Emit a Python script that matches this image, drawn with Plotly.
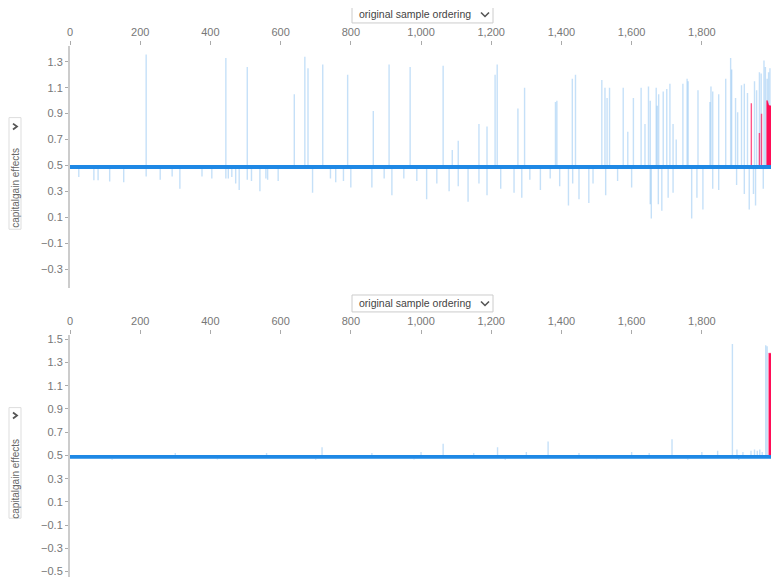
import plotly.graph_objects as go

# ---------------- data ----------------
n_samples = 1997
base_high = 0.504
base_low = 0.472

# top panel: light blue spikes above the base
top_up_idx = [217, 444, 505, 639, 669, 678, 720, 791, 864, 909, 969, 1063, 1089, 1106, 1165, 1188,
              1211, 1217, 1276, 1295, 1383, 1387, 1431, 1440, 1515, 1524, 1530, 1537, 1576, 1589,
              1605, 1627, 1638, 1648, 1653, 1670, 1673, 1677, 1690, 1700, 1709, 1718, 1727, 1746,
              1758, 1761, 1789, 1823, 1826, 1831, 1848, 1868, 1882, 1885, 1896, 1902, 1913, 1921,
              1930, 1950, 1956, 1964, 1969, 1977, 1981, 1986, 1990, 1994]
top_up_val = [1.356, 1.33, 1.26, 1.05, 1.34, 1.25, 1.28, 1.20, 0.92, 1.28, 1.26, 1.27, 0.62, 0.69, 0.82, 0.80,
              1.20, 1.28, 0.94, 1.10, 0.99, 1.00, 1.17, 1.20, 1.16, 1.10, 1.02, 1.10, 1.10, 0.76,
              1.02, 1.10, 0.82, 1.11, 1.00, 1.10, 0.96, 1.05, 1.07, 1.09, 1.13, 0.82, 0.70, 1.13,
              1.17, 1.15, 1.08, 0.99, 1.11, 1.07, 1.05, 1.17, 1.33, 1.24, 1.02, 0.91, 1.12, 1.13,
              1.06, 1.15, 1.08, 1.22, 1.21, 1.31, 1.26, 1.17, 1.22, 1.25]
# top panel: light blue spikes below the base
top_down_idx = [25, 68, 80, 113, 153, 217, 257, 291, 313, 376, 404, 444, 451, 461, 472, 482, 505, 517,
                541, 558, 563, 593, 691, 742, 757, 779, 800, 860, 895, 917, 951, 988, 1016, 1045,
                1080, 1106, 1134, 1165, 1188, 1227, 1265, 1287, 1310, 1340, 1368, 1395, 1420, 1432,
                1450, 1478, 1490, 1526, 1560, 1600, 1653, 1656, 1676, 1686, 1704, 1718, 1771, 1786,
                1803, 1831, 1848, 1899, 1921, 1935, 1947, 1953, 1975]
top_down_val = [0.41, 0.385, 0.385, 0.377, 0.37, 0.415, 0.39, 0.415, 0.32, 0.415, 0.40, 0.40, 0.40, 0.41,
                0.36, 0.31, 0.39, 0.38, 0.30, 0.40, 0.39, 0.38, 0.29, 0.40, 0.37, 0.38, 0.33, 0.33,
                0.40, 0.27, 0.40, 0.38, 0.24, 0.36, 0.30, 0.34, 0.22, 0.36, 0.27, 0.32, 0.29, 0.25,
                0.39, 0.31, 0.40, 0.34, 0.19, 0.36, 0.24, 0.21, 0.36, 0.27, 0.38, 0.33, 0.20, 0.09,
                0.20, 0.15, 0.25, 0.29, 0.09, 0.25, 0.16, 0.32, 0.31, 0.35, 0.28, 0.16, 0.28, 0.19, 0.32]
# top panel: red (positive) effects
top_red_line_idx = [1941, 1964, 1970]
top_red_line_val = [0.98, 0.75, 0.90]
top_red_block_idx = [1984, 1987, 1990, 1993, 1997]
top_red_block_val = [1.00, 1.00, 0.97, 0.96, 0.96]

# bottom panel
bot_up_idx = [300, 560, 718, 860, 1000, 1063, 1150, 1218, 1300, 1362, 1450, 1600, 1650, 1715, 1800,
              1845, 1887, 1900, 1917, 1940, 1950, 1958, 1965, 1972, 1982, 1986]
bot_up_val = [0.52, 0.52, 0.57, 0.52, 0.53, 0.60, 0.52, 0.57, 0.53, 0.62, 0.52, 0.53, 0.52, 0.64, 0.53,
              0.54, 1.46, 0.55, 0.53, 0.54, 0.55, 0.54, 0.55, 0.53, 1.45, 1.44]
bot_down_idx = [120, 420, 700, 980, 1240, 1500, 1760, 1905]
bot_down_val = [0.462, 0.465, 0.463, 0.465, 0.462, 0.466, 0.463, 0.46]
bot_red_block_idx = [1990, 1997]
bot_red_block_val = [1.38, 1.38]

x_ticks = [0, 200, 400, 600, 800, 1000, 1200, 1400, 1600, 1800]
top_y_ticks = [1.3, 1.1, 0.9, 0.7, 0.5, 0.3, 0.1, -0.1, -0.3]
bot_y_ticks = [1.5, 1.3, 1.1, 0.9, 0.7, 0.5, 0.3, 0.1, -0.1, -0.3, -0.5]
y_label = "capitalgain effects"
ordering_label = "original sample ordering"

# ---------------- styling ----------------
OFF = 8  # page body margin
W, H = 779 - OFF, 577 - OFF
ML, MR = 70 - OFF, 8
BLUE = "rgb(30,136,229)"
LIGHT = "rgba(30,136,229,0.26)"
RED = "rgb(255,13,87)"
FONT = "Liberation Sans, Arial, sans-serif"
TICKC = "#777"


def px(xp):
    return (xp - OFF - ML) / (W - ML - MR)


def py(yp):
    return (H - (yp - OFF)) / H


def spikes(idx, val, start):
    xs, ys = [], []
    for i, v in zip(idx, val):
        xs += [i, i, None]
        ys += [start, v, None]
    return xs, ys


fig = go.Figure()


def add_panel(xa, ya, up_idx, up_val, dn_idx, dn_val, red_line_idx, red_line_val, red_idx, red_val):
    xs, ys = spikes(up_idx, up_val, base_high)
    fig.add_trace(go.Scatter(x=xs, y=ys, mode="lines", line=dict(color=LIGHT, width=1.4),
                             xaxis=xa, yaxis=ya, hoverinfo="skip", showlegend=False))
    xs, ys = spikes(dn_idx, dn_val, base_low)
    fig.add_trace(go.Scatter(x=xs, y=ys, mode="lines", line=dict(color=LIGHT, width=1.4),
                             xaxis=xa, yaxis=ya, hoverinfo="skip", showlegend=False))
    fig.add_trace(go.Scatter(x=[0, n_samples], y=[base_low, base_low], mode="lines",
                             line=dict(color=BLUE, width=0), xaxis=xa, yaxis=ya,
                             hoverinfo="skip", showlegend=False))
    fig.add_trace(go.Scatter(x=[0, n_samples], y=[base_high, base_high], mode="lines",
                             line=dict(color=BLUE, width=0), fill="tonexty", fillcolor=BLUE,
                             xaxis=xa, yaxis=ya, hoverinfo="skip", showlegend=False))
    if red_line_idx:
        xs, ys = spikes(red_line_idx, red_line_val, base_high)
        fig.add_trace(go.Scatter(x=xs, y=ys, mode="lines", line=dict(color="rgba(255,13,87,0.7)", width=1.4),
                                 xaxis=xa, yaxis=ya, hoverinfo="skip", showlegend=False))
    fig.add_trace(go.Scatter(x=red_idx, y=[base_high] * len(red_idx), mode="lines",
                             line=dict(color=RED, width=0), xaxis=xa, yaxis=ya,
                             hoverinfo="skip", showlegend=False))
    fig.add_trace(go.Scatter(x=red_idx, y=red_val, mode="lines", line=dict(color=RED, width=0.5),
                             fill="tonexty", fillcolor=RED, xaxis=xa, yaxis=ya,
                             hoverinfo="skip", showlegend=False))


add_panel("x", "y", top_up_idx, top_up_val, top_down_idx, top_down_val,
          top_red_line_idx, top_red_line_val, top_red_block_idx, top_red_block_val)
add_panel("x2", "y2", bot_up_idx, bot_up_val, bot_down_idx, bot_down_val,
          [], [], bot_red_block_idx, bot_red_block_val)

xr = [0, n_samples]

xcommon = dict(range=xr, side="top", tickvals=x_ticks, tickformat=",", showgrid=False,
               zeroline=False, showline=False, ticks="outside", ticklen=4, tickwidth=1,
               tickcolor="#aaa", tickfont=dict(size=11, color=TICKC, family=FONT), fixedrange=True)
ycommon = dict(showgrid=False, zeroline=False, showline=True, linecolor="#ccc", linewidth=2,
               ticks="outside", ticklen=3, tickwidth=1, tickcolor="#aaa", ticklabeloverflow="allow",
               tickfont=dict(size=11, color=TICKC, family=FONT), fixedrange=True)

top_px = (44, 287)
bot_px = (334, 577)
top_rng = [0.5 - (top_px[1] - 164) / 130.0, 0.5 + (164 - top_px[0]) / 130.0]
bot_rng = [0.5 - (bot_px[1] - 455) / 116.5, 0.5 + (455 - bot_px[0]) / 116.5]

fig.update_layout(
    width=W, height=H,
    margin=dict(l=ML, r=MR, t=0, b=0),
    paper_bgcolor="white", plot_bgcolor="white",
    xaxis=dict(anchor="y", **xcommon),
    yaxis=dict(domain=[py(top_px[1]), py(top_px[0])], range=top_rng, tickvals=top_y_ticks,
               anchor="x", **ycommon),
    xaxis2=dict(anchor="y2", **xcommon),
    yaxis2=dict(domain=[max(0, py(bot_px[1])), py(bot_px[0])], range=bot_rng, tickvals=bot_y_ticks,
                anchor="x2", **ycommon),
)

shapes = []
annotations = []
for (dy0, dy1, by0, by1, chev_y, text_y) in [(4, 21, 116, 228, 125, 187), (294, 311, 407, 518, 415, 479)]:
    shapes.append(dict(type="rect", xref="paper", yref="paper", x0=px(352), x1=px(493),
                       y0=py(dy1), y1=py(dy0), line=dict(color="#ccc", width=1), fillcolor="white"))
    annotations.append(dict(xref="paper", yref="paper", x=px(357), y=py((dy0 + dy1) / 2),
                            text=ordering_label, showarrow=False, xanchor="left", yanchor="middle",
                            font=dict(size=10.5, color="#444", family=FONT)))
    cy = (dy0 + dy1) / 2
    shapes.append(dict(type="path", xref="paper", yref="paper",
                       path=f"M {px(481)} {py(cy - 2)} L {px(485)} {py(cy + 2)} L {px(489)} {py(cy - 2)}",
                       line=dict(color="#555", width=1.6)))
    shapes.append(dict(type="rect", xref="paper", yref="paper", x0=px(9), x1=px(21),
                       y0=py(by1), y1=py(by0), line=dict(color="#ddd", width=1), fillcolor="white"))
    shapes.append(dict(type="path", xref="paper", yref="paper",
                       path=f"M {px(13)} {py(chev_y - 3)} L {px(17)} {py(chev_y)} L {px(13)} {py(chev_y + 3)}",
                       line=dict(color="#555", width=1.8)))
    annotations.append(dict(xref="paper", yref="paper", x=px(15.5), y=py(text_y), text=y_label,
                            textangle=-90, showarrow=False, xanchor="center", yanchor="middle",
                            font=dict(size=10, color="#666", family=FONT)))

fig.update_layout(shapes=shapes, annotations=annotations)

fig.write_html("out.html")
